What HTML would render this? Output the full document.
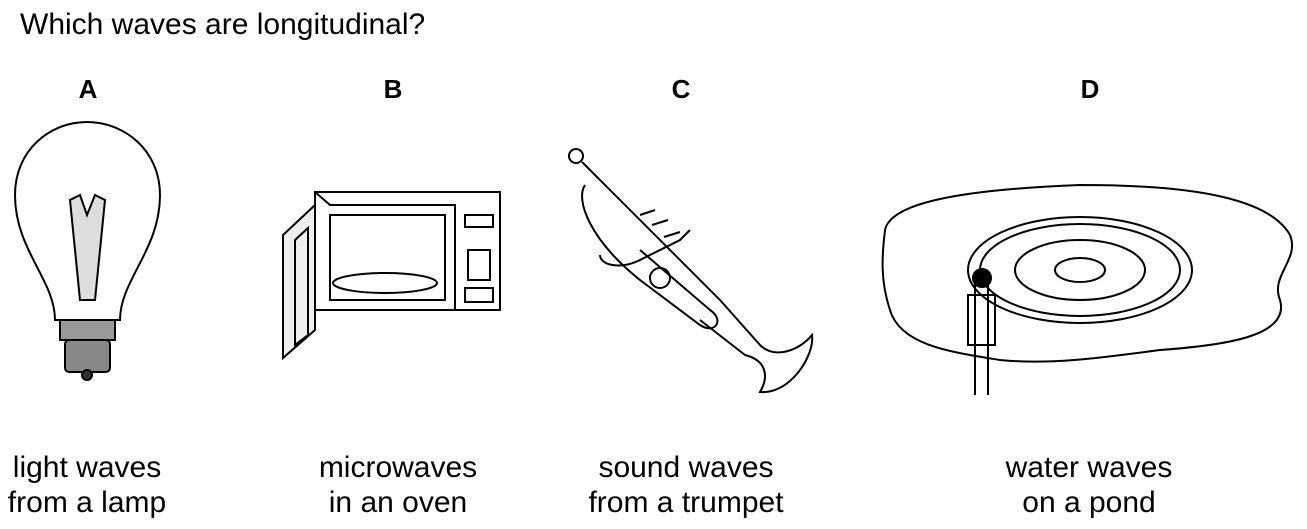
<!DOCTYPE html>
<html><head><meta charset="utf-8"><style>
body{margin:0;background:#fff;width:1307px;height:529px;overflow:hidden;position:relative;font-family:"Liberation Sans",Arial,sans-serif;color:#000}
.t{position:absolute;white-space:nowrap}
.q{left:20px;top:8px;font-size:30px}
.l{font-size:26px;font-weight:bold;top:74px;transform:translateX(-50%)}
.c{font-size:30px;text-align:center;transform:translateX(-50%);line-height:35px;top:450px}
svg{position:absolute;left:0;top:0}
</style></head><body>
<div class="t q">Which waves are longitudinal?</div>
<div class="t l" style="left:88px">A</div>
<div class="t l" style="left:393px">B</div>
<div class="t l" style="left:681px">C</div>
<div class="t l" style="left:1090px">D</div>
<div class="t c" style="left:87px">light waves<br>from a lamp</div>
<div class="t c" style="left:398px">microwaves<br>in an oven</div>
<div class="t c" style="left:686px">sound waves<br>from a trumpet</div>
<div class="t c" style="left:1089px">water waves<br>on a pond</div>
<svg width="1307" height="529" fill="none" stroke="#000" stroke-width="2">
<g>
<path d="M55 320 C55 280 15 250 15 195 C15 150 50 122 87 122 C124 122 160 150 160 195 C160 250 120 280 120 320 Z"/>
<path d="M70 200 L80 300 L95 300 L105 200 L95 195 L87 215 L80 195 Z" fill="#ddd"/>
<rect x="60" y="320" width="55" height="20" fill="#999"/>
<rect x="65" y="340" width="45" height="32" rx="4" fill="#888"/>
<circle cx="87" cy="375" r="5" fill="#333"/>
</g>
<g>
<rect x="315" y="192" width="185" height="118"/>
<path d="M315 192 L330 205 L455 205 L455 310"/>
<rect x="330" y="215" width="115" height="85"/>
<ellipse cx="385" cy="283" rx="52" ry="10"/>
<path d="M315 205 L283 235 L283 358 L315 330 Z" fill="#eee"/>
<path d="M295 240 L295 345 L308 335 L308 228 Z"/>
<rect x="465" y="215" width="28" height="12"/>
<rect x="468" y="250" width="22" height="30"/>
<rect x="465" y="288" width="28" height="14"/>
</g>
<g>
<circle cx="576" cy="156" r="7"/>
<path d="M582 162 L720 300 L760 345 C775 360 800 350 812 335 C815 355 790 395 760 392 C770 375 765 360 745 355 L700 320"/>
<path d="M585 185 C575 200 590 240 640 280 L700 325 C715 335 725 320 710 310 L640 250"/>
<path d="M600 255 C600 265 620 270 640 260 L680 240 L690 230"/>
<circle cx="660" cy="278" r="10"/>
<path d="M640 215 L655 210 M652 225 L668 220 M664 237 L680 232"/>
</g>
<g>
<path d="M885 230 C890 205 950 190 1080 185 C1200 185 1270 200 1290 235 C1300 260 1270 275 1280 300 C1290 335 1230 345 1160 350 C1100 358 1050 365 1000 360 C950 352 900 345 890 310 C880 280 882 255 885 230 Z"/>
<ellipse cx="1080" cy="270" rx="112" ry="53"/>
<ellipse cx="1080" cy="270" rx="100" ry="46"/>
<ellipse cx="1080" cy="270" rx="65" ry="30"/>
<ellipse cx="1080" cy="270" rx="25" ry="12"/>
<path d="M975 282 L975 395 M988 282 L988 395 M968 295 L995 295 L995 345 L968 345 Z"/>
<circle cx="982" cy="278" r="9" fill="#000"/>
</g>
</svg>
</body></html>
